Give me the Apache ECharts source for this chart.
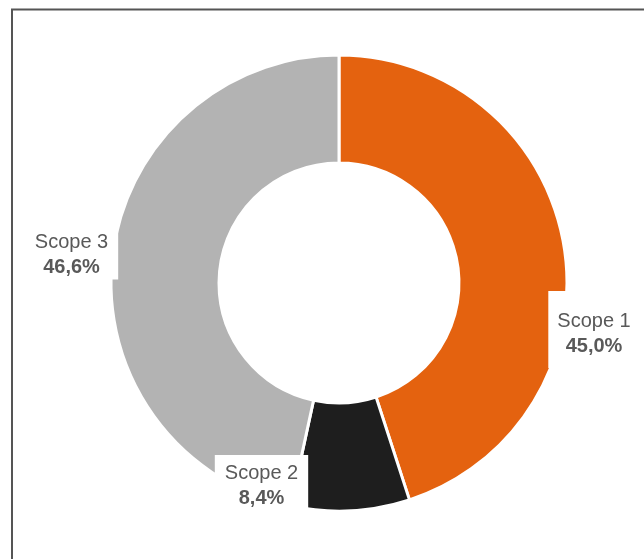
<!DOCTYPE html>
<html>
<head>
<meta charset="utf-8">
<script src="https://cdn.jsdelivr.net/npm/echarts@6/dist/echarts.min.js"></script>
<style>
html,body{margin:0;padding:0;background:#fff;}
#c{width:644px;height:559px;}
</style>
</head>
<body>
<div id="c"></div>
<script>
var categories = ['Scope 1', 'Scope 2', 'Scope 3'];
var values = [45.0, 8.4, 46.6];
var colors = ['#E4620F', '#1E1E1E', '#B3B3B3'];

var chart = echarts.init(document.getElementById('c'), null, {renderer: 'canvas'});

var labelBoxes = [
  {x: 594, y: 329.5, padding: [18, 9, 9, 9]},
  {x: 261.5, y: 483, padding: [6, 10, 0, 10]},
  {x: 71.5, y: 251, padding: [7, 10, 0, 10]}
];

var data = categories.map(function (c, i) {
  return {
    name: c,
    value: values[i],
    itemStyle: {color: colors[i]},
    label: {padding: labelBoxes[i].padding}
  };
});

chart.setOption({
  animation: false,
  backgroundColor: '#fff',
  graphic: [{
    type: 'rect',
    shape: {x: 12, y: 9.5, width: 700, height: 600},
    style: {fill: 'none', stroke: '#555555', lineWidth: 2},
    silent: true
  }],
  series: [{
    type: 'pie',
    center: [339, 283],
    radius: [120, 228],
    startAngle: 90,
    clockwise: true,
    avoidLabelOverlap: false,
    itemStyle: {borderColor: '#ffffff', borderWidth: 3},
    label: {
      show: true,
      position: 'inside',
      backgroundColor: '#ffffff',
      fontFamily: 'Liberation Sans, Arial, sans-serif',
      formatter: function (p) {
        return '{n|' + p.name + '}\n{p|' + p.value.toFixed(1).replace('.', ',') + '%}';
      },
      rich: {
        n: {fontSize: 20, lineHeight: 25, color: '#595959', fontFamily: 'Liberation Sans, Arial, sans-serif', align: 'center'},
        p: {fontSize: 20, lineHeight: 25, color: '#595959', fontWeight: 'bold', fontFamily: 'Liberation Sans, Arial, sans-serif', align: 'center'}
      }
    },
    labelLine: {show: false},
    labelLayout: function (params) {
      var b = labelBoxes[params.dataIndex];
      return {x: b.x, y: b.y, align: 'center', verticalAlign: 'middle'};
    },
    emphasis: {disabled: true},
    data: data
  }]
});
</script>
</body>
</html>
